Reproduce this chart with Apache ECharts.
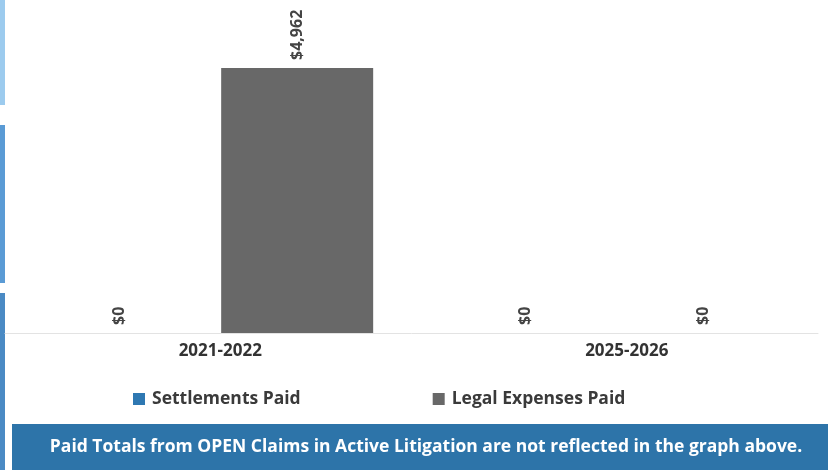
<!DOCTYPE html>
<html><head><meta charset="utf-8">
<script src="https://cdn.jsdelivr.net/npm/echarts@6/dist/echarts.min.js"></script>
<style>html,body{margin:0;padding:0;background:#fff}#c{width:828px;height:476px}</style>
</head><body><div id="c"></div>
<script>
const categories = ['2021-2022', '2025-2026'];
const settlementsPaid = [0, 0];
const legalExpensesPaid = [4962, 0];
const seriesNames = ['Settlements Paid', 'Legal Expenses Paid'];
const footnote = 'Paid Totals from OPEN Claims in Active Litigation are not reflected in the graph above.';

const fmt = v => '$' + v.value.toLocaleString('en-US');
const font = '"Open Sans", "Noto Sans", sans-serif';
const labelCfg = {
  show: true, position: 'top', distance: 8, rotate: 90, align: 'left', verticalAlign: 'middle',
  formatter: fmt, color: '#444', fontFamily: font, fontWeight: 'bold', fontSize: 16
};
const chart = echarts.init(document.getElementById('c'), null, {renderer: 'canvas'});
chart.setOption({
  backgroundColor: '#ffffff',
  animation: false,
  textStyle: {fontFamily: font},
  grid: {left: 5, right: 10, top: 68, bottom: 143, containLabel: false},
  legend: {
    left: 133, top: 390, padding: 0, itemWidth: 12, itemHeight: 12, itemGap: 132, icon: 'rect',
    textStyle: {color: '#3a3a3a', fontFamily: font, fontWeight: 'bold', fontSize: 17.5, padding: [0, 0, 0, 2]},
    data: seriesNames
  },
  xAxis: {
    type: 'category', data: categories,
    axisLine: {show: true, lineStyle: {color: '#e3e3e3'}},
    axisTick: {show: false},
    axisLabel: {color: '#333', fontFamily: font, fontWeight: 'bold', fontSize: 17, margin: 10, padding: [0, 0, 0, 24]}
  },
  yAxis: {type: 'value', min: 0, max: 'dataMax', show: false, splitLine: {show: false}},
  series: [
    {name: seriesNames[0], type: 'bar', data: settlementsPaid, barWidth: 152, barGap: '17%',
     itemStyle: {color: '#2e78b2'}, label: labelCfg},
    {name: seriesNames[1], type: 'bar', data: legalExpensesPaid, barWidth: 152,
     itemStyle: {color: '#686868'}, label: labelCfg}
  ],
  graphic: [
    {type: 'rect', left: 0, top: 0, shape: {width: 5, height: 105}, style: {fill: '#9ccbee'}},
    {type: 'rect', left: 0, top: 125, shape: {width: 5, height: 158}, style: {fill: '#5a9bd5'}},
    {type: 'rect', left: 0, top: 293, shape: {width: 5, height: 177}, style: {fill: '#4a8ac4'}},
    {type: 'rect', left: 12, top: 424, shape: {width: 816, height: 46}, style: {fill: '#2d74a9'}},
    {type: 'text', x: 426, y: 447, style: {text: footnote, fill: '#ffffff', font: 'bold 17.5px "Open Sans", sans-serif', textAlign: 'center', textVerticalAlign: 'middle'}}
  ]
});
</script></body></html>
